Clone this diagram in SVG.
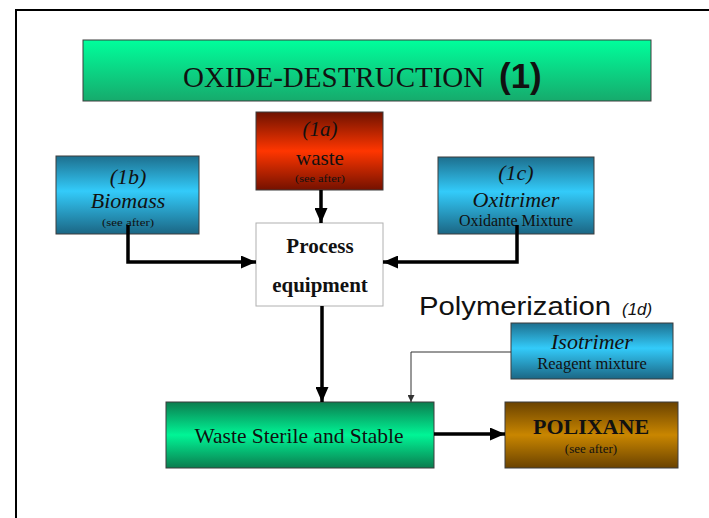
<svg xmlns="http://www.w3.org/2000/svg" width="709" height="518" viewBox="0 0 709 518">
<defs>
<linearGradient id="gTitle" x1="0" y1="0" x2="0" y2="1">
<stop offset="0" stop-color="#00ff9c"/>
<stop offset="1" stop-color="#16aa6c"/>
</linearGradient>
<linearGradient id="gGreen" x1="0" y1="0" x2="0" y2="1">
<stop offset="0" stop-color="#0b7c4e"/>
<stop offset="0.5" stop-color="#00f596"/>
<stop offset="1" stop-color="#0b7c4e"/>
</linearGradient>
<linearGradient id="gRed" x1="0" y1="0" x2="0" y2="1">
<stop offset="0" stop-color="#6e1200"/>
<stop offset="0.5" stop-color="#ff3600"/>
<stop offset="1" stop-color="#741100"/>
</linearGradient>
<linearGradient id="gBlue" x1="0" y1="0" x2="0" y2="1">
<stop offset="0" stop-color="#1d6f8e"/>
<stop offset="0.45" stop-color="#33cbfa"/>
<stop offset="1" stop-color="#1b6684"/>
</linearGradient>
<linearGradient id="gBrown" x1="0" y1="0" x2="0" y2="1">
<stop offset="0" stop-color="#6a4200"/>
<stop offset="0.5" stop-color="#c98600"/>
<stop offset="1" stop-color="#6a4200"/>
</linearGradient>
<marker id="arr" markerUnits="userSpaceOnUse" markerWidth="15" markerHeight="13" refX="15" refY="6.5" orient="auto">
<path d="M0,0 L15,6.5 L0,13 z" fill="#000"/>
</marker>
<marker id="arrS" markerUnits="userSpaceOnUse" markerWidth="7" markerHeight="7" refX="7" refY="3.5" orient="auto">
<path d="M0,0 L7,3.5 L0,7 z" fill="#333"/>
</marker>
</defs>
<style>
.box{stroke:#3c3c3c;stroke-width:1}
.serif{font-family:'Liberation Serif',serif;fill:#111}
.sans{font-family:'Liberation Sans',sans-serif;fill:#111}
.it{font-style:italic}
.b{font-weight:bold}
.c{text-anchor:middle}
.thick{fill:none;stroke:#000;stroke-width:3.5;marker-end:url(#arr)}
.thin{fill:none;stroke:#333;stroke-width:1;marker-end:url(#arrS)}
</style>
<rect width="709" height="518" fill="#fff"/>
<path d="M16,518 V10 H709" fill="none" stroke="#000" stroke-width="2"/>

<g id="title">
<rect class="box" x="83" y="40" width="568" height="61" fill="url(#gTitle)"/>
<text class="serif" x="183" y="87" font-size="29">OXIDE-DESTRUCTION</text>
<text class="sans b" x="499" y="88" font-size="35">(1)</text>
</g>

<g id="waste">
<rect class="box" x="256" y="112" width="127" height="78" fill="url(#gRed)"/>
<text class="serif it c" x="320" y="136" font-size="21">(1a)</text>
<text class="serif c" x="320" y="165" font-size="21">waste</text>
<text class="serif c" x="320" y="182" font-size="10" textLength="50" lengthAdjust="spacingAndGlyphs">(see after)</text>
</g>

<g id="biomass">
<rect class="box" x="56" y="156" width="143" height="78" fill="url(#gBlue)"/>
<text class="serif it c" x="128" y="184" font-size="22">(1b)</text>
<text class="serif it c" x="128" y="208" font-size="22">Biomass</text>
<text class="serif c" x="128" y="226" font-size="11" textLength="52" lengthAdjust="spacingAndGlyphs">(see after)</text>
</g>

<g id="oxitrimer">
<rect class="box" x="438" y="157" width="156" height="77" fill="url(#gBlue)"/>
<text class="serif it c" x="516" y="180" font-size="22">(1c)</text>
<text class="serif it c" x="516" y="207" font-size="22">Oxitrimer</text>
<text class="serif c" x="516" y="226" font-size="16">Oxidante Mixture</text>
</g>

<g id="process">
<rect x="256" y="223" width="127" height="83" fill="#fff" stroke="#b0b0b0" stroke-width="1"/>
<text class="serif b c" x="320" y="253" font-size="21">Process</text>
<text class="serif b c" x="320" y="292" font-size="21">equipment</text>
</g>

<g id="polymerization">
<text class="sans" x="419" y="315" font-size="26" textLength="192" lengthAdjust="spacingAndGlyphs">Polymerization</text>
<text class="sans it" x="622" y="315" font-size="17">(1d)</text>
</g>

<g id="isotrimer">
<rect class="box" x="511" y="323" width="162" height="56" fill="url(#gBlue)"/>
<text class="serif it c" x="592" y="349" font-size="22">Isotrimer</text>
<text class="serif c" x="592" y="369" font-size="16.5">Reagent mixture</text>
</g>

<g id="sterile">
<rect class="box" x="166" y="402" width="268" height="66" fill="url(#gGreen)"/>
<text class="serif c" x="299" y="443" font-size="21.5">Waste Sterile and Stable</text>
</g>

<g id="polixane">
<rect class="box" x="505" y="402" width="173" height="66" fill="url(#gBrown)"/>
<text class="serif b c" x="591" y="434" font-size="22">POLIXANE</text>
<text class="serif c" x="591" y="453" font-size="13">(see after)</text>
</g>

<g id="connectors">
<path class="thick" d="M321,190 V223"/>
<path class="thick" d="M128,225 V262 H256"/>
<path class="thick" d="M517,225 V262 H383"/>
<path class="thick" d="M322,306 V402"/>
<path class="thin" d="M511,352 H411 V402"/>
<path class="thick" d="M434,434 H505"/>
</g>
</svg>
